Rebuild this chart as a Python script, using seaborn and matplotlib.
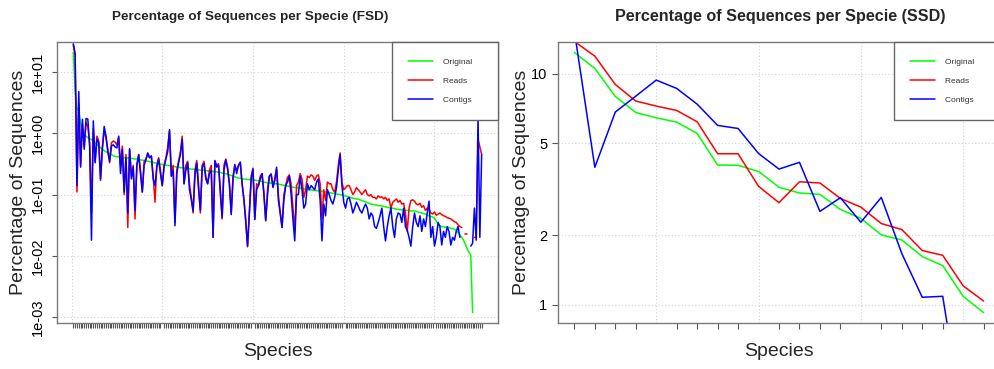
import numpy as np
import pandas as pd
import matplotlib
matplotlib.use("Agg")
import matplotlib.pyplot as plt
from matplotlib.lines import Line2D
from matplotlib.ticker import FixedLocator, FixedFormatter, NullLocator, NullFormatter
import seaborn as sns

nan = np.nan

# ---------------- FSD data (226 species) ----------------
species_fsd = list(range(1, 227))

original_fsd = [
    21, 5.0, 2.5, 2.3, 1.5, 1.1, 0.96, 0.90, 0.85, 0.82,
    0.79, 0.75, 0.70, 0.66, 0.62, 0.58, 0.55, 0.52, 0.50, 0.48,
    0.47, 0.45, 0.43, 0.42, 0.415, 0.41, 0.41, 0.405, 0.40, 0.40,
    0.395, 0.39, 0.39, 0.385, 0.38, 0.38, 0.375, 0.37, 0.365, 0.36,
    0.355, 0.35, 0.345, 0.34, 0.335, 0.33, 0.325, 0.32, 0.315, 0.31,
    0.305, 0.30, 0.30, 0.295, 0.29, 0.29, 0.285, 0.28, 0.28, 0.275,
    0.275, 0.27, 0.27, 0.265, 0.265, 0.26, 0.26, 0.26, 0.255, 0.255,
    0.25, 0.25, 0.25, 0.245, 0.245, 0.24, 0.24, 0.24, 0.235, 0.235,
    0.23, 0.23, 0.225, 0.22, 0.22, 0.215, 0.21, 0.205, 0.20, 0.195,
    0.19, 0.185, 0.185, 0.18, 0.18, 0.178, 0.177, 0.176, 0.175, 0.175,
    0.172, 0.17, 0.168, 0.165, 0.163, 0.16, 0.158, 0.156, 0.155, 0.153,
    0.152, 0.15, 0.15, 0.148, 0.146, 0.144, 0.142, 0.14, 0.138, 0.136,
    0.134, 0.132, 0.13, 0.13, 0.129, 0.128, 0.126, 0.124, 0.122, 0.12,
    0.12, 0.119, 0.118, 0.117, 0.116, 0.115, 0.114, 0.113, 0.112, 0.11,
    0.109, 0.108, 0.106, 0.105, 0.104, 0.102, 0.101, 0.10, 0.099, 0.097,
    0.095, 0.093, 0.091, 0.089, 0.087, 0.086, 0.085, 0.084, 0.082, 0.08,
    0.078, 0.076, 0.074, 0.072, 0.07, 0.069, 0.068, 0.067, 0.066, 0.066,
    0.065, 0.064, 0.063, 0.062, 0.061, 0.06, 0.06, 0.059, 0.058, 0.057,
    0.057, 0.056, 0.056, 0.055, 0.055, 0.055, 0.054, 0.054, 0.054, 0.053,
    0.052, 0.051, 0.05, 0.049, 0.048, 0.046, 0.045, 0.044, 0.043, 0.041,
    0.037, 0.033, 0.031, 0.030, 0.030, 0.029, 0.029, 0.029, 0.028, 0.028,
    0.027, 0.026, 0.024, 0.022, 0.02, 0.018, 0.0155, 0.013, 0.0115, 0.0102,
    0.00118, nan, nan, nan, nan, nan,
]

reads_fsd = [
    28, 18, 0.11, 3.0, 0.3, 1.4, 0.6, 1.5, 1.3, 0.7,
    0.05, 1.2, 0.35, 0.9, 0.75, 0.17, 0.6, 1.1, 0.85, 0.55,
    0.33, 0.7, 0.75, 0.72, 0.65, 0.85, 0.3, 0.62, 0.1, 0.45,
    0.029, 0.55, 0.2, 0.3, 0.04, 0.3, 0.45, 0.25, 0.11, 0.35,
    0.38, 0.46, 0.4, 0.42, 0.2, 0.075, 0.3, 0.4, 0.25, 0.14,
    0.3, 0.4, 0.6, 1.1, 0.2, 0.3, 0.035, 0.25, 0.35, 0.5,
    0.9, 0.15, 0.3, 0.35, 0.15, 0.09, 0.05, 0.25, 0.36, 0.15,
    0.05, 0.3, 0.35, 0.2, 0.15, 0.25, 0.3, 0.02, 0.35, 0.3,
    0.32, 0.1, 0.04, 0.3, 0.38, 0.28, 0.15, 0.05, 0.2, 0.3,
    0.25, 0.3, 0.33, 0.15, 0.08, 0.04, 0.014, 0.05, 0.2, 0.27,
    0.04, 0.15, 0.14, 0.2, 0.22, 0.11, 0.037, 0.12, 0.2, 0.22,
    0.14, 0.18, 0.26, 0.1, 0.05, 0.029, 0.1, 0.14, 0.19, 0.21,
    0.15, 0.06, 0.025, 0.14, 0.16, 0.22, 0.18, 0.09, 0.12, 0.2,
    0.19, 0.21, 0.2, 0.17, 0.2, 0.21, 0.15, 0.04, 0.12, 0.08,
    0.16, 0.15, 0.15, 0.12, 0.11, 0.16, 0.3, 0.48, 0.16, 0.12,
    0.13, 0.14, 0.14, 0.12, 0.1, 0.11, 0.13, 0.12, 0.11, 0.1,
    0.11, 0.12, 0.1, 0.095, 0.1, 0.09, 0.09, 0.085, 0.095, 0.09,
    0.092, 0.085, 0.09, 0.08, 0.085, 0.06, 0.075, 0.08, 0.085, 0.075,
    0.08, 0.07, 0.072, 0.05, 0.025, 0.06, 0.08, 0.082, 0.078, 0.07,
    0.068, 0.072, 0.062, 0.066, 0.055, 0.06, 0.058, 0.05, 0.048, 0.052,
    0.046, 0.048, 0.05, 0.047, 0.045, 0.044, 0.042, 0.041, 0.04, 0.038,
    0.036, 0.035, 0.032, 0.03, 0.029, nan, 0.023, 0.023, nan, nan,
    nan, 0.02, 0.02, 0.8, 0.6, 0.45,
]

contigs_fsd = [
    29, 20, 0.14, 4.8, 0.28, 1.7, 0.55, 1.75, 1.7, 0.6,
    0.018, 1.6, 0.33, 0.8, 0.7, 0.18, 0.55, 1.3, 0.9, 0.5,
    0.35, 0.62, 0.65, 0.6, 0.58, 0.9, 0.22, 0.55, 0.11, 0.4,
    0.05, 0.56, 0.18, 0.28, 0.055, 0.3, 0.45, 0.22, 0.11, 0.3,
    0.37, 0.48, 0.4, 0.43, 0.18, 0.14, 0.28, 0.38, 0.22, 0.14,
    0.28, 0.38, 0.5, 1.15, 0.2, 0.25, 0.031, 0.22, 0.33, 0.45,
    0.8, 0.15, 0.25, 0.33, 0.12, 0.083, 0.054, 0.2, 0.33, 0.12,
    0.055, 0.28, 0.32, 0.18, 0.15, 0.22, 0.25, 0.02, 0.36, 0.28,
    0.3, 0.12, 0.042, 0.25, 0.37, 0.26, 0.15, 0.047, 0.18, 0.31,
    0.22, 0.3, 0.34, 0.15, 0.085, 0.035, 0.0144, 0.05, 0.18, 0.26,
    0.039, 0.12, 0.14, 0.18, 0.22, 0.1, 0.038, 0.1, 0.2, 0.21,
    0.13, 0.17, 0.28, 0.08, 0.05, 0.029, 0.08, 0.14, 0.16, 0.2,
    0.1, 0.04, 0.0175, 0.1, 0.1, 0.2, 0.12, 0.06, 0.07, 0.15,
    0.12, 0.14, 0.13, 0.12, 0.16, 0.18, 0.08, 0.0175, 0.07, 0.045,
    0.12, 0.1, 0.08, 0.07, 0.09, 0.13, 0.25, 0.45, 0.14, 0.075,
    0.06, 0.085, 0.09, 0.07, 0.05, 0.06, 0.075, 0.065, 0.055, 0.05,
    0.06, 0.07, 0.06, 0.04, 0.05, 0.045, 0.03, 0.028, 0.035, 0.045,
    0.06, 0.03, 0.0175, 0.03, 0.045, 0.06, 0.03, 0.02, 0.04, 0.05,
    0.048, 0.035, 0.06, 0.03, 0.026, 0.02, 0.0144, 0.03, 0.05, 0.035,
    0.03, 0.045, 0.025, 0.04, 0.03, 0.05, 0.078, 0.02, 0.03, 0.0144,
    0.02, 0.035, 0.03, 0.015, 0.025, 0.02, 0.03, 0.025, 0.015, 0.02,
    0.018, 0.025, 0.03, 0.02, nan, nan, nan, nan, nan, 0.0144,
    0.016, 0.06, 0.018, 1.8, 0.02, 0.45,
]

# ---------------- SSD data (21 species) ----------------
species_ssd = list(range(1, 22))
original_ssd = [12.37, 10.54, 7.98, 6.80, 6.45, 6.18, 5.52, 4.03, 4.02, 3.78,
                3.23, 3.05, 3.01, 2.59, 2.37, 2.01, 1.91, 1.62, 1.48, 1.09, 0.927]
reads_ssd = [13.8, 11.92, 8.99, 7.62, 7.25, 6.94, 6.20, 4.51, 4.51, 3.26,
             2.77, 3.41, 3.37, 2.89, 2.65, 2.25, 2.12, 1.72, 1.64, 1.21, 1.04]
contigs_ssd = [15.3, 3.94, 6.83, 8.0, 9.39, 8.64, 7.39, 5.98, 5.80, 4.52,
               3.87, 4.14, 2.54, 2.91, 2.28, 2.92, 1.67, 1.08, 1.09, 0.31, 0.25]

series_names = ["Original", "Reads", "Contigs"]
series_colors = {"Original": "#00FF00", "Reads": "#FF0000", "Contigs": "#0000FF"}

fsd_ticks = [1e1, 1e0, 1e-1, 1e-2, 1e-3]
fsd_ticklabels = ["1e+01", "1e+00", "1e-01", "1e-02", "1e-03"]
ssd_ticks = [10, 5, 2, 1]
ssd_ticklabels = ["10", "5", "2", "1"]

assert len(original_fsd) == len(reads_fsd) == len(contigs_fsd) == len(species_fsd)


def long_frame(species, cols):
    frames = []
    for name, vals in zip(series_names, cols):
        v = np.asarray(vals, dtype=float)
        seg = np.cumsum(np.isnan(v))
        d = pd.DataFrame({"species": species, "value": v, "series": name, "seg": seg})
        frames.append(d.dropna())
    return pd.concat(frames, ignore_index=True)


sns.set_style("white")
plt.rcParams["font.family"] = ["Liberation Sans", "DejaVu Sans"]

W, H = 995, 369
fig = plt.figure(figsize=(W / 100, H / 100), dpi=100)
ax1 = fig.add_axes([57 / W, 1 - 323 / H, 441 / W, 281 / H])
ax2 = fig.add_axes([558 / W, 1 - 323 / H, 442 / W, 281 / H])

spine_col = "#7a7a7a"


def draw(ax, species, cols, yticks, yticklabels, xgrid, rot, ticklen_x, ticklen_y, ypad):
    df = long_frame(species, cols)
    sns.lineplot(data=df, x="species", y="value", hue="series", units="seg",
                 estimator=None, hue_order=series_names, palette=series_colors,
                 linewidth=1.1, legend=False, ax=ax)
    ax.set_yscale("log")
    orig = np.asarray(cols[0], dtype=float)
    lo, hi = np.log10(np.nanmin(orig)), np.log10(np.nanmax(orig))
    pad = 0.04 * (hi - lo)
    ax.set_ylim(10 ** (lo - pad), 10 ** (hi + pad))
    n = len(species)
    ax.set_xlim(1 - 0.04 * (n - 1), n + 0.04 * (n - 1))

    ax.yaxis.set_major_locator(FixedLocator(yticks))
    ax.yaxis.set_major_formatter(FixedFormatter(yticklabels))
    ax.yaxis.set_minor_locator(NullLocator())
    ax.xaxis.set_major_locator(FixedLocator(xgrid))
    ax.xaxis.set_major_formatter(NullFormatter())
    ax.xaxis.set_minor_locator(FixedLocator(species))
    ax.xaxis.set_minor_formatter(NullFormatter())

    ax.tick_params(axis="x", which="major", length=0)
    ax.tick_params(axis="x", which="minor", length=ticklen_x, width=0.8,
                   color="#555555", bottom=True)
    ax.tick_params(axis="y", which="major", length=ticklen_y, width=0.8,
                   color="#555555", left=True, labelsize=10.5, pad=ypad,
                   labelcolor="black")
    if rot:
        for lab in ax.get_yticklabels():
            lab.set_rotation(90)
            lab.set_va("center")
            lab.set_ha("right")

    ax.grid(True, which="major", linestyle=(0, (1, 2)), color="#d3d3d3", linewidth=0.8)
    ax.set_axisbelow(True)
    for s in ax.spines.values():
        s.set_color(spine_col)
        s.set_linewidth(1.0)
        s.set_visible(True)

    ax.set_xlabel("Species", fontsize=14)
    ax.set_ylabel("Percentage of Sequences", fontsize=14)

    handles = [Line2D([], [], color=series_colors[s], lw=1.1) for s in series_names]
    labels = [s + "    " for s in series_names]
    leg = ax.legend(handles, labels, loc="upper right", bbox_to_anchor=(1, 1),
                    borderaxespad=0, fontsize=6, frameon=True, fancybox=False,
                    edgecolor="#666666", framealpha=1, handlelength=3.0,
                    handletextpad=1.3, labelspacing=1.37, borderpad=1.9)
    leg.get_frame().set_linewidth(1.0)
    for t in leg.get_texts():
        t.set_color("#333333")


draw(ax1, species_fsd, [original_fsd, reads_fsd, contigs_fsd], fsd_ticks,
     fsd_ticklabels, [0, 50, 100, 150, 200], True, 3.6, 3.6, 5)
draw(ax2, species_ssd, [original_ssd, reads_ssd, contigs_ssd], ssd_ticks,
     ssd_ticklabels, [5, 10, 15, 20], False, 4.3, 4.6, 3)

ax1.xaxis.set_label_coords(0.5, -0.072)
ax2.xaxis.set_label_coords(0.5, -0.072)
ax1.yaxis.set_label_coords((26.7 - 57) / 441, 0.5)
ax2.yaxis.set_label_coords((530 - 558) / 442, 0.5)

fig.text(250 / W, 1 - 17 / H, "Percentage of Sequences per Specie (FSD)",
         ha="center", va="center", fontsize=9.7, fontweight="bold")
fig.text(780 / W, 1 - 17 / H, "Percentage of Sequences per Specie (SSD)",
         ha="center", va="center", fontsize=11.6, fontweight="bold")

fig.savefig("out.png", dpi=100, facecolor="white")
